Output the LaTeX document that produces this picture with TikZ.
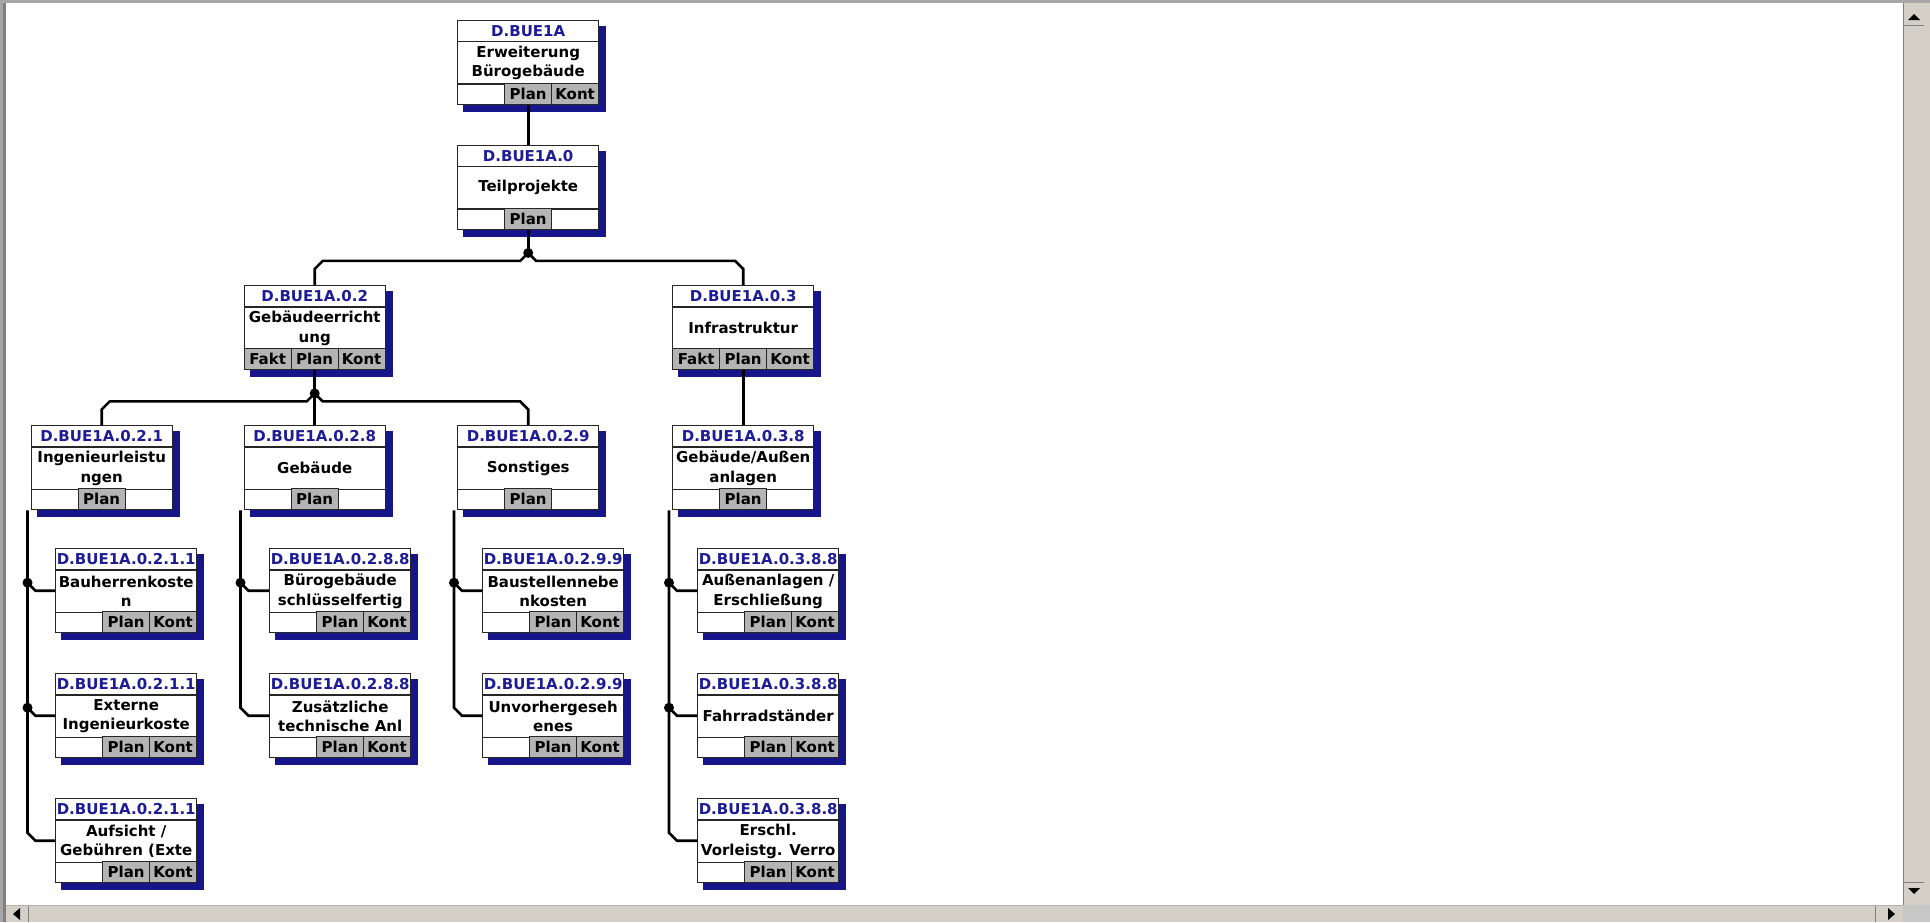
\documentclass[tikz,border=0pt]{standalone}
\usepackage{fontspec}
\setmainfont{DejaVu Sans}
\usetikzlibrary{positioning,calc}

\definecolor{wbsshadow}{RGB}{22,22,138}
\definecolor{wbscode}{RGB}{28,28,150}
\definecolor{wbscell}{RGB}{180,180,180}
\definecolor{winface}{RGB}{212,208,200}
\definecolor{winedge}{RGB}{128,128,128}

% one element: name, top left corner, code, text, cells
\newcommand\wbsbox[5]{%
  \fill[wbsshadow] ($(#2)+(6,6)$) rectangle ($(#2)+(149,92)$);
  \node[wbs,anchor=north west] (#1) at (#2) {};
  \draw[boxline] ($(#1.north west)+(0,22)$) -- ($(#1.north east)+(0,22)$);
  \draw[boxline] ($(#1.south west)+(0,-21)$) -- ($(#1.south east)+(0,-21)$);
  \node[wbscode] (#1-code) at ($(#1.north)+(0,11.5)$) {#3};
  \node[wbstext] (#1-text) at ($(#1.center)+(0,0.5)$) {#4};
  \foreach \lbl/\col in {#5}
    \node[cell,anchor=south west] (#1-\col) at ($(#1.south west)+(\col*47,0)$) {\lbl};
}

\begin{document}
\begin{tikzpicture}[x=1pt,y=-1pt,
    boxline/.style={line width=1.2pt,draw=black!85},
    wbs/.style={draw=black!85,line width=1.4pt,fill=white,minimum width=141pt,minimum height=84pt,inner sep=0pt},
    wbscode/.style={font=\fontsize{15}{17}\selectfont\bfseries,text=wbscode,inner sep=0pt},
    wbstext/.style={font=\fontsize{15}{19.5}\selectfont\bfseries,align=center,inner sep=0pt},
    cell/.style={draw=black!85,line width=1.2pt,fill=wbscell,minimum width=47pt,minimum height=21pt,inner sep=0pt,font=\fontsize{15}{17}\selectfont\bfseries},
    link/.style={line width=2.6pt,draw=black},
    dot/.style={circle,fill=black,inner sep=0pt,minimum size=10pt}]
\useasboundingbox (0,0) rectangle (1930,922);
\fill[white] (0,0) rectangle (1930,922);

% window frame and scroll bars
\fill[winedge!70] (0,0) rectangle (1930,3);
\fill[winedge!70] (0,0) rectangle (3,922);
\fill[winedge] (3,3) rectangle (6,922);
\fill[winface] (1903,3) rectangle (1930,905);
\draw[winedge,line width=1pt] (1903,3) -- (1903,905);
\draw[winedge,line width=1pt] (1904,25) -- (1924,25) (1904,882) -- (1924,882);
\fill[black] (1908,20) -- (1920,20) -- (1914,14) -- cycle;
\fill[black] (1908,888) -- (1920,888) -- (1914,894) -- cycle;
\fill[winface] (6,905) rectangle (1903,922);
\draw[winedge!60,line width=1pt] (6,905) -- (1903,905);
\draw[winedge,line width=1pt] (28,906) -- (28,922) (1875,906) -- (1875,922);
\fill[black] (13,914) -- (20,908) -- (20,920) -- cycle;
\fill[black] (1888,908) -- (1895,914) -- (1888,920) -- cycle;
\fill[black!22] (1903,905) rectangle (1930,922);

% elements
\wbsbox{top}{457,19.5}{D.BUE1A}{Erweiterung\\Bürogebäude}{Plan/1,Kont/2}
\wbsbox{tp}{457,144.5}{D.BUE1A.0}{Teilprojekte}{Plan/1}
\wbsbox{geb}{243.5,285}{D.BUE1A.0.2}{Gebäudeerricht\\ung}{Fakt/0,Plan/1,Kont/2}
\wbsbox{inf}{672,285}{D.BUE1A.0.3}{Infrastruktur}{Fakt/0,Plan/1,Kont/2}
\wbsbox{ing}{30.5,425}{D.BUE1A.0.2.1}{Ingenieurleistu\\ngen}{Plan/1}
\wbsbox{gbd}{243.5,425}{D.BUE1A.0.2.8}{Gebäude}{Plan/1}
\wbsbox{son}{457,425}{D.BUE1A.0.2.9}{Sonstiges}{Plan/1}
\wbsbox{aus}{672,425}{D.BUE1A.0.3.8}{Gebäude/Außen\\anlagen}{Plan/1}
\wbsbox{ing1}{55,548}{D.BUE1A.0.2.1.1}{Bauherrenkoste\\n}{Plan/1,Kont/2}
\wbsbox{ing2}{55,673}{D.BUE1A.0.2.1.1}{Externe\\Ingenieurkoste}{Plan/1,Kont/2}
\wbsbox{ing3}{55,798}{D.BUE1A.0.2.1.1}{Aufsicht /\\Gebühren (Exte}{Plan/1,Kont/2}
\wbsbox{gbd1}{269,548}{D.BUE1A.0.2.8.8}{Bürogebäude\\schlüsselfertig}{Plan/1,Kont/2}
\wbsbox{gbd2}{269,673}{D.BUE1A.0.2.8.8}{Zusätzliche\\technische Anl}{Plan/1,Kont/2}
\wbsbox{son1}{482,548}{D.BUE1A.0.2.9.9}{Baustellennebe\\nkosten}{Plan/1,Kont/2}
\wbsbox{son2}{482,673}{D.BUE1A.0.2.9.9}{Unvorhergeseh\\enes}{Plan/1,Kont/2}
\wbsbox{aus1}{697,548}{D.BUE1A.0.3.8.8}{Außenanlagen /\\Erschließung}{Plan/1,Kont/2}
\wbsbox{aus2}{697,673}{D.BUE1A.0.3.8.8}{Fahrradständer}{Plan/1,Kont/2}
\wbsbox{aus3}{697,798}{D.BUE1A.0.3.8.8}{Erschl.\\Vorleistg. Verro}{Plan/1,Kont/2}

% forks
\draw[link] (top.south) -- (tp.north);
\draw[link] (inf.south) -- (aus.north);
\draw[link] (tp.south) -- ++(0,23) node[dot] (j1) {};
\coordinate (h1) at ($(j1)+(0,8)$);
\draw[link] (j1.center) -- ++(-8,8) -- ($(h1 -| geb.north)+(8,0)$) -- ++(-8,8) -- (geb.north);
\draw[link] (j1.center) -- ++(8,8) -- ($(h1 -| inf.north)+(-8,0)$) -- ++(8,8) -- (inf.north);
\draw[link] (geb.south) -- ++(0,23) node[dot] (j2) {};
\coordinate (h2) at ($(j2)+(0,8)$);
\draw[link] (j2.center) -- (gbd.north);
\draw[link] (j2.center) -- ++(-8,8) -- ($(h2 -| ing.north)+(8,0)$) -- ++(-8,8) -- (ing.north);
\draw[link] (j2.center) -- ++(8,8) -- ($(h2 -| son.north)+(-8,0)$) -- ++(8,8) -- (son.north);

% side lists
\foreach \p/\last/\others in {ing/3/{1,2},gbd/2/1,son/2/1,aus/3/{1,2}} {
  \draw[link] ($(\p.south west)+(-3,0)$) coordinate (\p-s)
    -- ($(\p-s |- \p\last.west)+(0,-8)$) -- ++(8,8) -- (\p\last.west);
  \foreach \k in \others {
    \node[dot] (\p-d\k) at ($(\p-s |- \p\k.west)+(0,-8)$) {};
    \draw[link] (\p-d\k.center) -- ++(8,8) -- (\p\k.west);
  }
}
\end{tikzpicture}
\end{document}
